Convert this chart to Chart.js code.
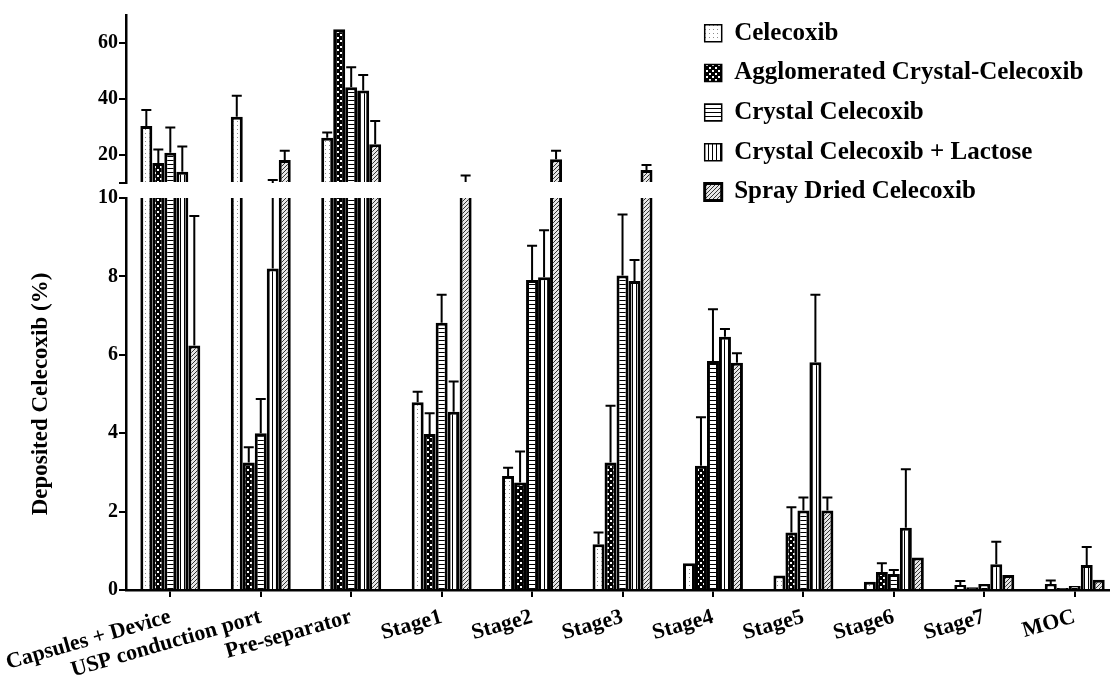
<!DOCTYPE html>
<html><head><meta charset="utf-8">
<script src="https://cdn.jsdelivr.net/npm/chart.js@4.4.0/dist/chart.umd.min.js"></script>
<style>html,body{margin:0;padding:0;background:#fff}#wrap{width:1110px;height:687px;position:relative}</style>
</head><body><div id="wrap"><canvas id="c"></canvas></div>
<script>
const categories = ['Capsules + Device','USP conduction port','Pre-separator','Stage1','Stage2','Stage3','Stage4','Stage5','Stage6','Stage7','MOC'];
const seriesNames = ['Celecoxib','Agglomerated Crystal-Celecoxib','Crystal Celecoxib','Crystal Celecoxib + Lactose','Spray Dried Celecoxib'];

const celecoxib       = [30.4, 33.7, 26.2, 4.79, 2.91, 1.17, 0.68, 0.37, 0.21, 0.13, 0.15];
const celecoxibErr    = [5.7, 7.5, 1.8, 0.27, 0.21, 0.30, 0, 0, 0, 0.10, 0.09];
const agglomerated    = [17.1, 3.25, 64.9, 3.98, 2.74, 3.25, 3.17, 1.47, 0.46, 0.07, 0.05];
const agglomeratedErr = [4.9, 0.39, 0, 0.53, 0.79, 1.45, 1.24, 0.64, 0.22, 0, 0];
const crystal         = [20.8, 4.0, 44.2, 6.82, 7.91, 8.02, 5.84, 2.03, 0.41, 0.15, 0.10];
const crystalErr      = [9.0, 0.87, 7.1, 0.71, 0.87, 1.56, 1.32, 0.33, 0.10, 0, 0];
const lactose         = [14.0, 8.2, 43.0, 4.55, 7.98, 7.88, 6.46, 5.81, 1.59, 0.66, 0.64];
const lactoseErr      = [9.0, 2.9, 5.6, 0.77, 1.2, 0.54, 0.2, 1.72, 1.49, 0.57, 0.46];
const spray           = [6.24, 18.2, 23.8, 10.4, 18.5, 14.6, 5.80, 2.03, 0.83, 0.38, 0.26];
const sprayErr        = [3.3, 3.3, 8.3, 2.3, 3.0, 1.8, 0.24, 0.33, 0, 0, 0];

const lowTicks = [0, 2, 4, 6, 8, 10];
const highTicks = [20, 40, 60];
const breakAt = 10;
const highMax = 70;

const values = [celecoxib, agglomerated, crystal, lactose, spray];
const errors = [celecoxibErr, agglomeratedErr, crystalErr, lactoseErr, sprayErr];
const FONT = '"Liberation Serif", "Times New Roman", serif';

function tile(size, draw) {
  const c = document.createElement('canvas');
  c.width = size; c.height = size;
  const g = c.getContext('2d');
  draw(g, size);
  return g.createPattern(c, 'repeat');
}
const patterns = [
  tile(4, (g, s) => { g.fillStyle = '#fff'; g.fillRect(0, 0, s, s); g.fillStyle = '#8c8c8c'; g.fillRect(1, 1, 1, 1); }),
  tile(6, (g, s) => { g.fillStyle = '#000'; g.fillRect(0, 0, s, s); g.fillStyle = '#fff'; g.fillRect(1, 1, 2, 2); g.fillRect(4, 4, 2, 2); }),
  tile(4, (g, s) => { g.fillStyle = '#fff'; g.fillRect(0, 0, s, s); g.fillStyle = '#000'; g.fillRect(0, 0, s, 1); }),
  tile(4, (g, s) => { g.fillStyle = '#fff'; g.fillRect(0, 0, s, s); g.fillStyle = '#000'; g.fillRect(0, 0, 1, s); }),
  tile(4, (g, s) => { g.fillStyle = '#e6e6e6'; g.fillRect(0, 0, s, s); g.strokeStyle = '#333'; g.lineWidth = 1;
    g.beginPath(); g.moveTo(0, s); g.lineTo(s, 0); g.moveTo(-1, 1); g.lineTo(1, -1); g.moveTo(s - 1, s + 1); g.lineTo(s + 1, s - 1); g.stroke(); })
];

const BW = 3;
const lowSets = values.map((vals, i) => ({
  label: seriesNames[i],
  data: vals.map((v, j) => ({ x: j, y: Math.min(v, breakAt) })),
  yAxisID: 'yLow', stack: 's' + i,
  backgroundColor: patterns[i], borderColor: '#000',
  borderWidth: ctx => (ctx.dataIndex !== undefined && vals[ctx.dataIndex] > breakAt) ? { left: BW, right: BW, top: 0, bottom: 0 } : BW,
  borderSkipped: 'start', categoryPercentage: 0.663, barPercentage: 1
}));
const highSets = values.map((vals, i) => ({
  label: seriesNames[i] + ' (upper)',
  data: vals.map((v, j) => ({ x: j, y: v > breakAt ? v : null })),
  yAxisID: 'yHigh', stack: 's' + i, base: breakAt,
  backgroundColor: patterns[i], borderColor: '#000',
  borderWidth: { left: BW, right: BW, top: BW, bottom: 0 },
  borderSkipped: 'start', categoryPercentage: 0.663, barPercentage: 1
}));

const errorBars = {
  id: 'errorBars',
  afterDatasetsDraw(chart) {
    const ctx = chart.ctx, lo = chart.scales.yLow, hi = chart.scales.yHigh;
    ctx.save();
    ctx.strokeStyle = '#000'; ctx.lineWidth = 2;
    values.forEach((vals, i) => {
      const meta = chart.getDatasetMeta(i);
      vals.forEach((v, j) => {
        const e = errors[i][j];
        if (!e) return;
        const x = meta.data[j].x, top = v + e;
        let capY;
        ctx.beginPath();
        if (v > breakAt) {
          ctx.moveTo(x, hi.getPixelForValue(v)); capY = hi.getPixelForValue(top); ctx.lineTo(x, capY);
        } else if (top <= breakAt) {
          ctx.moveTo(x, lo.getPixelForValue(v)); capY = lo.getPixelForValue(top); ctx.lineTo(x, capY);
        } else {
          ctx.moveTo(x, lo.getPixelForValue(v)); ctx.lineTo(x, lo.getPixelForValue(breakAt));
          ctx.moveTo(x, hi.getPixelForValue(breakAt)); capY = hi.getPixelForValue(top); ctx.lineTo(x, capY);
        }
        ctx.moveTo(x - 5, capY); ctx.lineTo(x + 5, capY);
        ctx.stroke();
      });
    });
    ctx.restore();
  }
};
const legendPlace = {
  id: 'legendPlace',
  afterLayout(chart) {
    const lg = chart.legend; if (!lg) return;
    const a = chart.chartArea;
    lg.left = a.right - 420; lg.right = lg.left + lg.width;
    lg.top = a.top - 9; lg.bottom = lg.top + lg.height;
  }
};

const tickFont = { family: FONT, size: 20, weight: 'bold' };
const axisGrid = { drawOnChartArea: false, drawTicks: true, tickLength: 7, color: '#000', lineWidth: 2, offset: false };
const axisBorder = { color: '#000', width: 2.5 };

new Chart(document.getElementById('c'), {
  type: 'bar',
  data: { datasets: [...lowSets, ...highSets] },
  plugins: [errorBars, legendPlace],
  options: {
    responsive: true, maintainAspectRatio: false, animation: false, devicePixelRatio: 1,
    layout: { padding: { top: 15, right: 0, bottom: 0, left: 0 } },
    plugins: {
      tooltip: { enabled: false },
      legend: {
        position: 'chartArea', align: 'start',
        labels: {
          filter: item => item.datasetIndex < seriesNames.length,
          color: '#000', font: { family: FONT, size: 25, weight: 'bold' },
          boxWidth: 17, boxHeight: 17, padding: 14.7
        }
      }
    },
    scales: {
      x: {
        type: 'linear', min: -0.49, max: 10.39, offset: false,
        afterBuildTicks: s => { s.ticks = categories.map((_, i) => ({ value: i })); },
        afterFit: s => { s.height = 97; s.paddingLeft = 0; s.paddingRight = 0; },
        ticks: { callback: v => categories[v], autoSkip: false, minRotation: 16, maxRotation: 16, color: '#000',
          font: { family: FONT, size: 22, weight: 'bold' }, padding: 7 },
        grid: axisGrid, border: axisBorder
      },
      yLow: {
        type: 'linear', position: 'left', stack: 'y', stackWeight: 392, weight: 1, min: 0, max: breakAt,
        afterBuildTicks: s => { s.ticks = lowTicks.map(v => ({ value: v })); },
        afterFit: s => { s.width = 126; s.paddingTop = 0; s.paddingBottom = 0; },
        ticks: { color: '#000', font: tickFont, padding: 1 },
        grid: axisGrid, border: axisBorder,
        title: { display: true, text: 'Deposited Celecoxib (%)', color: '#000',
          font: { family: FONT, size: 23, weight: 'bold' }, padding: { top: 27, bottom: 0 } }
      },
      yGap: {
        type: 'linear', position: 'left', stack: 'y', stackWeight: 15, weight: 2, min: 0, max: 1, display: false,
        afterFit: s => { s.width = 126; s.paddingTop = 0; s.paddingBottom = 0; }
      },
      yHigh: {
        type: 'linear', position: 'left', stack: 'y', stackWeight: 168, weight: 3, min: breakAt, max: highMax,
        afterBuildTicks: s => { s.ticks = [breakAt, ...highTicks].map(v => ({ value: v })); },
        afterFit: s => { s.width = 126; s.paddingTop = 0; s.paddingBottom = 0; },
        ticks: { color: '#000', font: tickFont, padding: 1, callback: v => highTicks.includes(v) ? String(v) : '' },
        grid: axisGrid, border: axisBorder
      }
    }
  }
});
</script></body></html>
